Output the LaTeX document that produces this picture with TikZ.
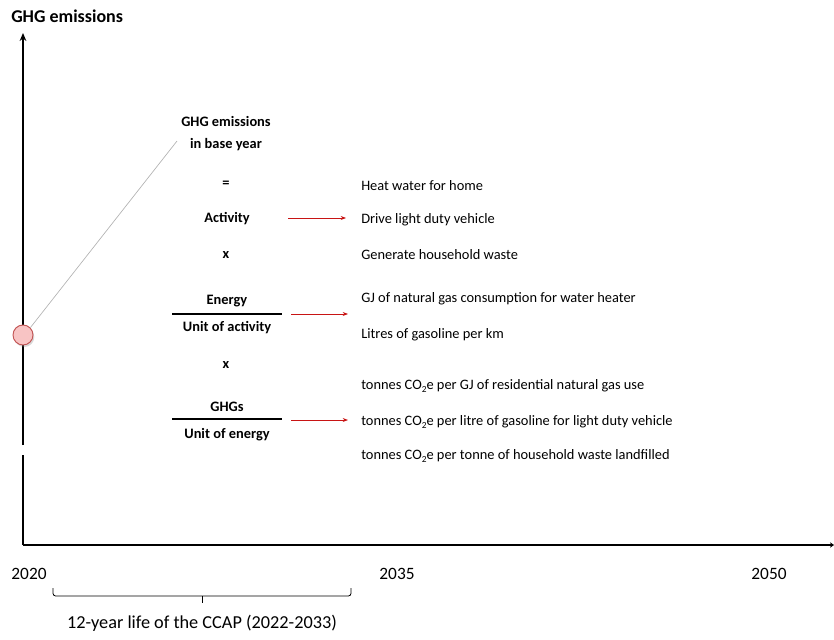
\documentclass[tikz,border=0pt]{standalone}
\usepackage{fontspec}
\setmainfont{Carlito}
\usetikzlibrary{arrows.meta,shadows}
\definecolor{arrred}{RGB}{200,20,20}
\definecolor{dotfill}{RGB}{248,196,196}
\definecolor{dotedge}{RGB}{195,85,85}
\newcommand{\subtwo}{\raisebox{-0.35ex}{\fontsize{7}{8}\selectfont 2}}
\begin{document}
\begin{tikzpicture}[x=0.75pt,y=-0.75pt,
  formula/.style={font=\fontsize{10.8}{12}\selectfont\bfseries, inner sep=1pt},
  item/.style={font=\fontsize{10.8}{12}\selectfont, anchor=west, inner sep=0pt},
  year/.style={font=\fontsize{13}{15}\selectfont, inner sep=0pt},
  redarrow/.style={draw=arrred, line width=0.6pt, -{Stealth[length=4pt,width=3pt]}},
  axis/.style={line width=1.4pt},
  fracline/.style={line width=0.8pt}]
\useasboundingbox (0,0) rectangle (834,639);
% axes
\coordinate (origin) at (23,545);
\coordinate (ytop) at (23,33);
\coordinate (xend) at (834,545);
\coordinate (gapA) at (23,445);
\coordinate (gapB) at (23,455);
\draw[axis,-{Stealth[length=6pt,width=5pt]}] (gapA) -- (ytop);
\draw[axis] (origin) -- (gapB);
\draw[line width=1pt,-{Stealth[length=3pt,width=4pt]}] (origin) -- (xend);
\node[font=\fontsize{13.5}{15}\selectfont\bfseries, anchor=west, inner sep=0pt] (ylabel) at (11,16) {GHG emissions};
% base year dot
\node[circle, minimum size=15pt, inner sep=0pt, fill=dotfill, draw=dotedge, line width=0.7pt, drop shadow={shadow xshift=1pt, shadow yshift=-1.5pt, opacity=0.3}] (dot) at (23,335) {};
% formula column
\node[formula, align=center] (base) at (226,133.5) {GHG emissions\\[4pt]in base year};
\coordinate (leader) at (177,141);
\draw[gray!60, line width=0.5pt] (dot.north east) -- (leader);
\node[formula] (eq) at (226,184) {=};
\node[formula] (act) at (227,219) {Activity};
\node[formula] (x1) at (226,255) {x};
\node[formula] (energy) at (227,301) {Energy};
\node[formula] (uact) at (227,328) {Unit of activity};
\node[formula] (x2) at (226,365) {x};
\node[formula] (ghgs) at (227,407) {GHGs};
\node[formula] (uen) at (227,435) {Unit of energy};
\coordinate (f1a) at (172,314); \coordinate (f1b) at (282,314);
\coordinate (f2a) at (172,419); \coordinate (f2b) at (282,419);
\draw[fracline] (f1a) -- (f1b);
\draw[fracline] (f2a) -- (f2b);
% items
\node[item] (i1) at (361,186) {Heat water for home};
\node[item] (i2) at (361,220) {Drive light duty vehicle};
\node[item] (i3) at (361,255) {Generate household waste};
\node[item] (i4) at (361,299) {GJ of natural gas consumption for water heater};
\node[item] (i5) at (361,335) {Litres of gasoline per km};
\node[item] (i6) at (361,386) {tonnes CO\subtwo e per GJ of residential natural gas use};
\node[item] (i7) at (361,422) {tonnes CO\subtwo e per litre of gasoline for light duty vehicle};
\node[item] (i8) at (361,456) {tonnes CO\subtwo e per tonne of household waste landfilled};
% red arrows
\coordinate (a1s) at (288,218); \coordinate (a1e) at (346,218);
\coordinate (a2s) at (291,314); \coordinate (a2e) at (348,314);
\coordinate (a3s) at (291,420); \coordinate (a3e) at (348,420);
\draw[redarrow] (a1s) -- (a1e);
\draw[redarrow] (a2s) -- (a2e);
\draw[redarrow] (a3s) -- (a3e);
% years
\node[year] (y2020) at (29,574) {2020};
\node[year] (y2035) at (397,574) {2035};
\node[year] (y2050) at (769,574) {2050};
% brace
\coordinate (bl) at (53,588);
\coordinate (br) at (351,588);
\coordinate (bmid) at (202,596);
\coordinate (bmidb) at (202,603);
\draw[line width=0.6pt, rounded corners=2pt] (bl) -- ++(0,8) -- (bmid) -- (351,596) -- (br);
\draw[line width=0.6pt] (bmid) -- (bmidb);
\node[font=\fontsize{13.7}{15}\selectfont, inner sep=0pt] (ccap) at (202,623) {12-year life of the CCAP (2022-2033)};
\end{tikzpicture}
\end{document}
